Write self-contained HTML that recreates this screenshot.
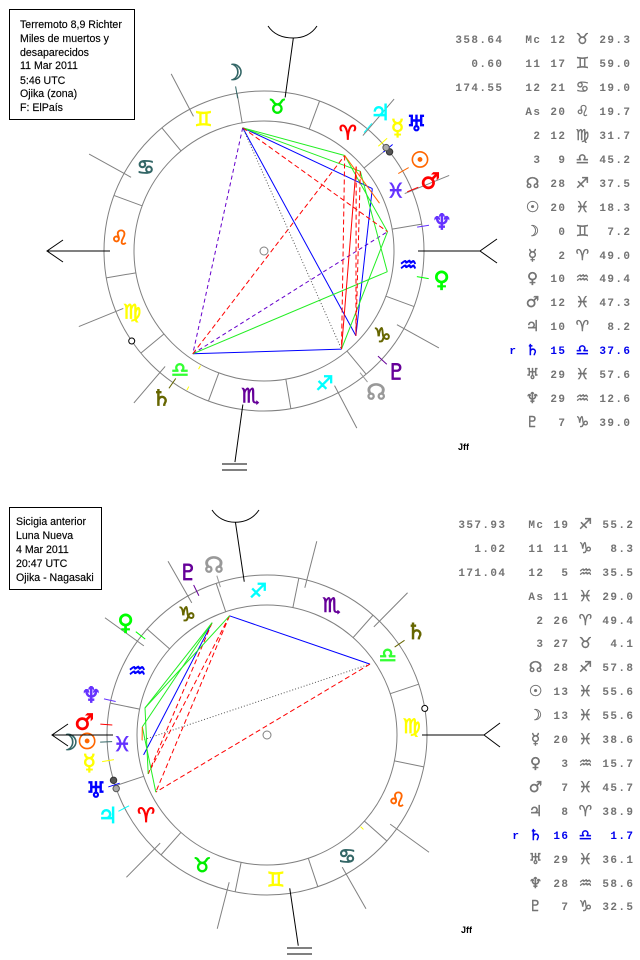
<!DOCTYPE html>
<html><head><meta charset="utf-8">
<style>
html,body{margin:0;padding:0;background:#fff;}
svg{display:block;}
.hd{font-family:"Liberation Sans",Arial,sans-serif;font-size:10.6px;fill:#000;stroke:#000;stroke-width:0.15;}
.t{font-family:"Liberation Mono",monospace;font-weight:bold;font-size:11px;letter-spacing:1.4px;fill:#737373;text-anchor:end;}
.tb{fill:#0000ee;}
.g{font-family:"DejaVu Sans",sans-serif;font-size:15px;text-anchor:middle;dominant-baseline:central;fill:#737373;stroke:#737373;stroke-width:0.4;}
.gb{fill:#0000ee;stroke:#0000ee;}
.z{font-family:"DejaVu Sans",sans-serif;font-size:20px;text-anchor:middle;dominant-baseline:central;stroke-width:0.8;}
.p{font-family:"DejaVu Sans",sans-serif;font-size:22px;text-anchor:middle;dominant-baseline:central;stroke-width:0.8;}
.rd{stroke:#ff0000;stroke-dasharray:5 3;}
.pd{stroke:#6600cc;stroke-dasharray:4 3;}
.gd{stroke:#555;stroke-dasharray:1 2;}
.bl{stroke:#0000ff;}
.gr{stroke:#22ee22;}
.rs{stroke:#ff0000;}
.or{stroke:#ff6600;}
</style></head>
<body>
<svg width="640" height="960" viewBox="0 0 640 960" xmlns="http://www.w3.org/2000/svg">
<rect width="640" height="960" fill="#fff"/>

<!-- Header boxes -->
<rect x="9.5" y="9.5" width="125" height="110" fill="none" stroke="#000"/>
<text class="hd" x="20" y="28">Terremoto 8,9 Richter</text>
<text class="hd" x="20" y="42">Miles de muertos y</text>
<text class="hd" x="20" y="56">desaparecidos</text>
<text class="hd" x="20" y="69">11 Mar 2011</text>
<text class="hd" x="20" y="84">5:46 UTC</text>
<text class="hd" x="20" y="97">Ojika (zona)</text>
<text class="hd" x="20" y="111">F: ElPaís</text>

<rect x="9.5" y="507.5" width="92" height="82" fill="none" stroke="#000"/>
<text class="hd" x="16" y="525">Sicigia anterior</text>
<text class="hd" x="16" y="539">Luna Nueva</text>
<text class="hd" x="16" y="553">4 Mar 2011</text>
<text class="hd" x="16" y="567">20:47 UTC</text>
<text class="hd" x="16" y="581">Ojika - Nagasaki</text>

<!-- ================= TOP CHART ================= -->
<g fill="none" stroke-width="1">
<line class="pd" x1="242.7" y1="127.8" x2="192.8" y2="353.8"/>
<line class="pd" x1="192.8" y1="353.8" x2="387.5" y2="231.7"/>
<line class="bl" x1="242.7" y1="127.8" x2="355.9" y2="335.7"/>
<line class="bl" x1="242.7" y1="127.8" x2="372.3" y2="188.6"/>
<line class="bl" x1="372.3" y1="188.6" x2="355.9" y2="335.7"/>
<line class="bl" x1="192.8" y1="353.8" x2="341.5" y2="349.1"/>
<line class="gr" x1="192.8" y1="353.8" x2="387.3" y2="271.7"/>
<line class="gr" x1="242.7" y1="127.8" x2="344.7" y2="155.5"/>
<line class="gr" x1="242.7" y1="127.8" x2="360.3" y2="171.3"/>
<line class="gr" x1="344.7" y1="155.5" x2="387.5" y2="231.7"/>
<line class="gr" x1="360.3" y1="171.3" x2="387.3" y2="271.7"/>
<line class="gr" x1="387.5" y1="231.7" x2="341.5" y2="349.1"/>
<line class="rd" x1="192.8" y1="353.8" x2="344.7" y2="155.5"/>
<line class="rd" x1="242.7" y1="127.8" x2="387.5" y2="231.7"/>
<line class="rd" x1="344.7" y1="155.5" x2="341.5" y2="349.1"/>
<line class="rd" x1="356.2" y1="166.6" x2="355.9" y2="335.7"/>
<line class="rd" x1="360.3" y1="171.3" x2="355.9" y2="335.7"/>
<line class="rs" x1="356.2" y1="166.6" x2="341.5" y2="349.1"/>
<line class="gd" x1="242.7" y1="127.8" x2="341.5" y2="349.1"/>
<line class="or" x1="344.7" y1="155.5" x2="379.5" y2="203.2"/>
</g>

<g transform="translate(264 251)">
 <g fill="none" stroke="#808080" stroke-width="1">
  <circle r="160"/><circle r="130"/>
  <line x1="130" x2="160" transform="rotate(-9.67)"/>
  <line x1="130" x2="160" transform="rotate(-39.67)"/>
  <line x1="130" x2="160" transform="rotate(-69.67)"/>
  <line x1="130" x2="160" transform="rotate(-99.67)"/>
  <line x1="130" x2="160" transform="rotate(-129.67)"/>
  <line x1="130" x2="160" transform="rotate(-159.67)"/>
  <line x1="130" x2="160" transform="rotate(-189.67)"/>
  <line x1="130" x2="160" transform="rotate(-219.67)"/>
  <line x1="130" x2="160" transform="rotate(-249.67)"/>
  <line x1="130" x2="160" transform="rotate(-279.67)"/>
  <line x1="130" x2="160" transform="rotate(-309.67)"/>
  <line x1="130" x2="160" transform="rotate(-339.67)"/>
  <line x1="152" x2="200" transform="rotate(-22.2)"/>
  <line x1="152" x2="200" transform="rotate(-49.42)"/>
  <line x1="152" x2="200" transform="rotate(-117.65)"/>
  <line x1="152" x2="200" transform="rotate(-150.99)"/>
  <line x1="152" x2="200" transform="rotate(-202.2)"/>
  <line x1="152" x2="200" transform="rotate(-229.42)"/>
  <line x1="152" x2="200" transform="rotate(-297.65)"/>
  <line x1="152" x2="200" transform="rotate(-330.99)"/>
 </g>
 <line x1="131" x2="135" transform="rotate(-241)" stroke="#ffff00"/>
 <line x1="155" x2="159" transform="rotate(-241)" stroke="#ffff00"/>
 <text class="z" fill="#ff0000" stroke="#ff0000" transform="rotate(-54.67) translate(145 0) rotate(54.67)">♈&#xFE0E;</text>
 <text class="z" fill="#00ee00" stroke="#00ee00" transform="rotate(-84.67) translate(145 0) rotate(84.67)">♉&#xFE0E;</text>
 <text class="z" fill="#ffff00" stroke="#ffff00" transform="rotate(-114.67) translate(145 0) rotate(114.67)">♊&#xFE0E;</text>
 <text class="z" fill="#336666" stroke="#336666" transform="rotate(-144.67) translate(145 0) rotate(144.67)">♋&#xFE0E;</text>
 <text class="z" fill="#ff6600" stroke="#ff6600" transform="rotate(-174.67) translate(145 0) rotate(174.67)">♌&#xFE0E;</text>
 <text class="z" fill="#ffff00" stroke="#ffff00" transform="rotate(-204.67) translate(145 0) rotate(204.67)">♍&#xFE0E;</text>
 <text class="z" fill="#33ff33" stroke="#33ff33" transform="rotate(-234.67) translate(145 0) rotate(234.67)">♎&#xFE0E;</text>
 <text class="z" fill="#660099" stroke="#660099" transform="rotate(-264.67) translate(145 0) rotate(264.67)">♏&#xFE0E;</text>
 <text class="z" fill="#00ffff" stroke="#00ffff" transform="rotate(-294.67) translate(145 0) rotate(294.67)">♐&#xFE0E;</text>
 <text class="z" fill="#666600" stroke="#666600" transform="rotate(-324.67) translate(145 0) rotate(324.67)">♑&#xFE0E;</text>
 <text class="z" fill="#0000ff" stroke="#0000ff" transform="rotate(-354.67) translate(145 0) rotate(354.67)">♒&#xFE0E;</text>
 <text class="z" fill="#6633ff" stroke="#6633ff" transform="rotate(-24.67) translate(145 0) rotate(24.67)">♓&#xFE0E;</text>
 <line x1="155" x2="167" transform="rotate(-308.3)" stroke="#999999"/>
 <line x1="155" x2="167" transform="rotate(-29.97)" stroke="#ff6600"/>
 <line x1="155" x2="167" transform="rotate(-99.79)" stroke="#336666"/>
 <line x1="155" x2="167" transform="rotate(-42.49)" stroke="#ffff00"/>
 <line x1="155" x2="167" transform="rotate(-350.49)" stroke="#00ff00"/>
 <line x1="155" x2="167" transform="rotate(-22.46)" stroke="#ff0000"/>
 <line x1="155" x2="167" transform="rotate(-49.8)" stroke="#00ffff"/>
 <line x1="155" x2="167" transform="rotate(-235.3)" stroke="#666600"/>
 <line x1="155" x2="167" transform="rotate(-39.63)" stroke="#0000ff"/>
 <line x1="155" x2="167" transform="rotate(-8.88)" stroke="#6633ff"/>
 <line x1="155" x2="167" transform="rotate(-317.32)" stroke="#660099"/>
 <text class="p" fill="#999999" stroke="#999999" transform="rotate(-308.3) translate(181 0) rotate(308.3)">☊</text>
 <text class="p" fill="#ff6600" stroke="#ff6600" transform="rotate(-29.97) translate(180 0) rotate(29.97)">☉</text>
 <text class="p" fill="#336666" stroke="#336666" transform="rotate(-99.79) translate(180 0) rotate(99.79)">☽</text>
 <text class="p" fill="#ffff00" stroke="#ffff00" transform="rotate(-42.49) translate(181 0) rotate(42.49)">☿</text>
 <text class="p" fill="#00ff00" stroke="#00ff00" transform="rotate(-350.49) translate(180 0) rotate(350.49)">♀&#xFE0E;</text>
 <text class="p" fill="#ff0000" stroke="#ff0000" transform="rotate(-22.46) translate(180 0) rotate(22.46)">♂&#xFE0E;</text>
 <text class="p" fill="#00ffff" stroke="#00ffff" transform="rotate(-49.8) translate(180 0) rotate(49.8)">♃</text>
 <text class="p" fill="#666600" stroke="#666600" transform="rotate(-235.3) translate(180 0) rotate(235.3)">♄</text>
 <text class="p" fill="#0000ff" stroke="#0000ff" transform="rotate(-39.63) translate(198 0) rotate(39.63)">♅</text>
 <text class="p" fill="#6633ff" stroke="#6633ff" transform="rotate(-8.88) translate(180 0) rotate(8.88)">♆</text>
 <text class="p" fill="#660099" stroke="#660099" transform="rotate(-317.32) translate(180 0) rotate(317.32)">♇</text>
 <g stroke="#000" fill="none" stroke-width="1">
  <line x1="-154" y1="0" x2="-217" y2="0"/>
  <polyline points="-201,-11 -217,0 -201,11"/>
  <line x1="154" y1="0" x2="216" y2="0"/>
  <polyline points="233,-12 216,0 233,12"/>
  <line x1="155" x2="215" transform="rotate(-82.16)"/>
  <path d="M4,-225 Q12,-213 29.3,-213 Q45,-213 53,-225"/>
  <line x1="155" x2="213" transform="rotate(-262.16)"/>
  <path d="M-42,213 H-17 M-42,219 H-17"/>
 </g>
 <circle cx="160" cy="0" r="3.2" transform="rotate(-38.31)" fill="#555" stroke="#333"/>
 <circle cx="160" cy="0" r="3.2" transform="rotate(-40.27)" fill="#aaa" stroke="#555"/>
 <circle cx="160" cy="0" r="3" transform="rotate(-214.22)" fill="#fff" stroke="#000"/>
 <circle r="4" fill="#fff" stroke="#808080"/>
</g>
<text x="458" y="450" font-family="Liberation Sans, sans-serif" font-size="9" font-weight="bold" fill="#000">Jff</text>

<!-- ================= BOTTOM CHART ================= -->
<g fill="none" stroke-width="1">
<line class="bl" x1="229.5" y1="615.8" x2="370.0" y2="664.1"/>
<line class="bl" x1="212.1" y1="622.7" x2="143.6" y2="754.9"/>
<line class="gd" x1="370.0" y1="664.1" x2="142.1" y2="740.3"/>
<line class="rd" x1="370.0" y1="664.1" x2="155.8" y2="792.1"/>
<line class="rd" x1="229.5" y1="615.8" x2="155.8" y2="792.1"/>
<line class="rd" x1="229.5" y1="615.8" x2="148.2" y2="773.9"/>
<line class="rd" x1="212.1" y1="622.7" x2="148.2" y2="773.9"/>
<line class="gr" x1="212.1" y1="622.7" x2="145.0" y2="707.9"/>
<line class="gr" x1="212.1" y1="622.7" x2="142.3" y2="726.9"/>
<line class="gr" x1="229.5" y1="615.8" x2="145.0" y2="707.9"/>
<line class="gr" x1="145.0" y1="707.9" x2="148.2" y2="773.9"/>
<line class="gr" x1="142.3" y1="726.9" x2="155.8" y2="792.1"/>
<line class="or" x1="142.3" y1="726.9" x2="142.1" y2="740.3"/>
</g>

<g transform="translate(267 735)">
 <g fill="none" stroke="#808080" stroke-width="1">
  <circle r="160"/><circle r="130"/>
  <line x1="130" x2="160" transform="rotate(-18.52)"/>
  <line x1="130" x2="160" transform="rotate(-48.52)"/>
  <line x1="130" x2="160" transform="rotate(-78.52)"/>
  <line x1="130" x2="160" transform="rotate(-108.52)"/>
  <line x1="130" x2="160" transform="rotate(-138.52)"/>
  <line x1="130" x2="160" transform="rotate(-168.52)"/>
  <line x1="130" x2="160" transform="rotate(-198.52)"/>
  <line x1="130" x2="160" transform="rotate(-228.52)"/>
  <line x1="130" x2="160" transform="rotate(-258.52)"/>
  <line x1="130" x2="160" transform="rotate(-288.52)"/>
  <line x1="130" x2="160" transform="rotate(-318.52)"/>
  <line x1="130" x2="160" transform="rotate(-348.52)"/>
  <line x1="152" x2="200" transform="rotate(-45.34)"/>
  <line x1="152" x2="200" transform="rotate(-75.59)"/>
  <line x1="152" x2="200" transform="rotate(-119.66)"/>
  <line x1="152" x2="200" transform="rotate(-144.11)"/>
  <line x1="152" x2="200" transform="rotate(-225.34)"/>
  <line x1="152" x2="200" transform="rotate(-255.59)"/>
  <line x1="152" x2="200" transform="rotate(-299.66)"/>
  <line x1="152" x2="200" transform="rotate(-324.11)"/>
 </g>
 <line x1="131" x2="135" transform="rotate(-315.6)" stroke="#ffff00"/>
 <text class="z" fill="#ff0000" stroke="#ff0000" transform="rotate(-213.52) translate(145 0) rotate(213.52)">♈&#xFE0E;</text>
 <text class="z" fill="#00ee00" stroke="#00ee00" transform="rotate(-243.52) translate(145 0) rotate(243.52)">♉&#xFE0E;</text>
 <text class="z" fill="#ffff00" stroke="#ffff00" transform="rotate(-273.52) translate(145 0) rotate(273.52)">♊&#xFE0E;</text>
 <text class="z" fill="#336666" stroke="#336666" transform="rotate(-303.52) translate(145 0) rotate(303.52)">♋&#xFE0E;</text>
 <text class="z" fill="#ff6600" stroke="#ff6600" transform="rotate(-333.52) translate(145 0) rotate(333.52)">♌&#xFE0E;</text>
 <text class="z" fill="#ffff00" stroke="#ffff00" transform="rotate(-3.52) translate(145 0) rotate(3.52)">♍&#xFE0E;</text>
 <text class="z" fill="#33ff33" stroke="#33ff33" transform="rotate(-33.52) translate(145 0) rotate(33.52)">♎&#xFE0E;</text>
 <text class="z" fill="#660099" stroke="#660099" transform="rotate(-63.52) translate(145 0) rotate(63.52)">♏&#xFE0E;</text>
 <text class="z" fill="#00ffff" stroke="#00ffff" transform="rotate(-93.52) translate(145 0) rotate(93.52)">♐&#xFE0E;</text>
 <text class="z" fill="#666600" stroke="#666600" transform="rotate(-123.52) translate(145 0) rotate(123.52)">♑&#xFE0E;</text>
 <text class="z" fill="#0000ff" stroke="#0000ff" transform="rotate(-153.52) translate(145 0) rotate(153.52)">♒&#xFE0E;</text>
 <text class="z" fill="#6633ff" stroke="#6633ff" transform="rotate(-183.52) translate(145 0) rotate(183.52)">♓&#xFE0E;</text>
 <line x1="155" x2="167" transform="rotate(-107.48)" stroke="#999999"/>
 <line x1="155" x2="167" transform="rotate(-182.45)" stroke="#336666"/>
 <line x1="155" x2="167" transform="rotate(-189.16)" stroke="#ffff00"/>
 <line x1="155" x2="167" transform="rotate(-141.78)" stroke="#00ff00"/>
 <line x1="155" x2="167" transform="rotate(-176.28)" stroke="#ff0000"/>
 <line x1="155" x2="167" transform="rotate(-207.17)" stroke="#00ffff"/>
 <line x1="155" x2="167" transform="rotate(-34.55)" stroke="#666600"/>
 <line x1="155" x2="167" transform="rotate(-198.12)" stroke="#0000ff"/>
 <line x1="155" x2="167" transform="rotate(-167.5)" stroke="#6633ff"/>
 <line x1="155" x2="167" transform="rotate(-116.06)" stroke="#660099"/>
 <text class="p" fill="#999999" stroke="#999999" transform="rotate(-107.48) translate(177 0) rotate(107.48)">☊</text>
 <text class="p" fill="#ff6600" stroke="#ff6600" transform="rotate(-182.45) translate(180 0) rotate(182.45)">☉</text>
 <text class="p" fill="#336666" stroke="#336666" transform="rotate(-182.45) translate(199 0) rotate(182.45)">☽</text>
 <text class="p" fill="#ffff00" stroke="#ffff00" transform="rotate(-189.16) translate(180 0) rotate(189.16)">☿</text>
 <text class="p" fill="#00ff00" stroke="#00ff00" transform="rotate(-141.78) translate(180 0) rotate(141.78)">♀&#xFE0E;</text>
 <text class="p" fill="#ff0000" stroke="#ff0000" transform="rotate(-176.28) translate(183 0) rotate(176.28)">♂&#xFE0E;</text>
 <text class="p" fill="#00ffff" stroke="#00ffff" transform="rotate(-207.17) translate(179 0) rotate(207.17)">♃</text>
 <text class="p" fill="#666600" stroke="#666600" transform="rotate(-34.55) translate(181 0) rotate(34.55)">♄</text>
 <text class="p" fill="#0000ff" stroke="#0000ff" transform="rotate(-198.12) translate(180 0) rotate(198.12)">♅</text>
 <text class="p" fill="#6633ff" stroke="#6633ff" transform="rotate(-167.5) translate(180 0) rotate(167.5)">♆</text>
 <text class="p" fill="#660099" stroke="#660099" transform="rotate(-116.06) translate(180 0) rotate(116.06)">♇</text>
 <g stroke="#000" fill="none" stroke-width="1">
  <line x1="-154" y1="0" x2="-215" y2="0"/>
  <polyline points="-199,-11 -215,0 -199,11"/>
  <line x1="155" y1="0" x2="217" y2="0"/>
  <polyline points="233,-12 217,0 233,12"/>
  <line x1="155" x2="215" transform="rotate(-98.44)"/>
  <path d="M-55,-225 Q-47,-213 -31.6,-212.7 Q-16,-213 -8,-225"/>
  <line x1="155" x2="213" transform="rotate(-278.44)"/>
  <path d="M20,213 H45 M20,219 H45"/>
 </g>
 <circle cx="160" cy="0" r="3.2" transform="rotate(-196.45)" fill="#555" stroke="#333"/>
 <circle cx="160" cy="0" r="3.2" transform="rotate(-199.54)" fill="#aaa" stroke="#555"/>
 <circle cx="160" cy="0" r="3" transform="rotate(-9.56)" fill="#fff" stroke="#000"/>
 <circle r="4" fill="#fff" stroke="#808080"/>
</g>
<text x="461" y="933" font-family="Liberation Sans, sans-serif" font-size="9" font-weight="bold" fill="#000">Jff</text>

<!-- ================= TOP TABLE ================= -->
<text class="t" x="503.4" y="43">358.64</text><text class="t" x="541.4" y="43">Mc</text><text class="t" x="566.4" y="43">12</text><text class="g" x="582.5" y="39">♉&#xFE0E;</text><text class="t" x="631.4" y="43">29.3</text>
<text class="t" x="503.4" y="67">0.60</text><text class="t" x="541.4" y="67">11</text><text class="t" x="566.4" y="67">17</text><text class="g" x="582.5" y="63">♊&#xFE0E;</text><text class="t" x="631.4" y="67">59.0</text>
<text class="t" x="503.4" y="91">174.55</text><text class="t" x="541.4" y="91">12</text><text class="t" x="566.4" y="91">21</text><text class="g" x="582.5" y="87">♋&#xFE0E;</text><text class="t" x="631.4" y="91">19.0</text>
<text class="t" x="541.4" y="115">As</text><text class="t" x="566.4" y="115">20</text><text class="g" x="582.5" y="111">♌&#xFE0E;</text><text class="t" x="631.4" y="115">19.7</text>
<text class="t" x="541.4" y="139">2</text><text class="t" x="566.4" y="139">12</text><text class="g" x="582.5" y="135">♍&#xFE0E;</text><text class="t" x="631.4" y="139">31.7</text>
<text class="t" x="541.4" y="163">3</text><text class="t" x="566.4" y="163">9</text><text class="g" x="582.5" y="159">♎&#xFE0E;</text><text class="t" x="631.4" y="163">45.2</text>
<text class="g" x="532.5" y="183">☊</text><text class="t" x="566.4" y="187">28</text><text class="g" x="582.5" y="183">♐&#xFE0E;</text><text class="t" x="631.4" y="187">37.5</text>
<text class="g" x="532.5" y="207">☉</text><text class="t" x="566.4" y="211">20</text><text class="g" x="582.5" y="207">♓&#xFE0E;</text><text class="t" x="631.4" y="211">18.3</text>
<text class="g" x="532.5" y="231">☽</text><text class="t" x="566.4" y="235">0</text><text class="g" x="582.5" y="231">♊&#xFE0E;</text><text class="t" x="631.4" y="235">7.2</text>
<text class="g" x="532.5" y="255">☿</text><text class="t" x="566.4" y="259">2</text><text class="g" x="582.5" y="255">♈&#xFE0E;</text><text class="t" x="631.4" y="259">49.0</text>
<text class="g" x="532.5" y="278">♀&#xFE0E;</text><text class="t" x="566.4" y="282">10</text><text class="g" x="582.5" y="278">♒&#xFE0E;</text><text class="t" x="631.4" y="282">49.4</text>
<text class="g" x="532.5" y="302">♂&#xFE0E;</text><text class="t" x="566.4" y="306">12</text><text class="g" x="582.5" y="302">♓&#xFE0E;</text><text class="t" x="631.4" y="306">47.3</text>
<text class="g" x="532.5" y="326">♃</text><text class="t" x="566.4" y="330">10</text><text class="g" x="582.5" y="326">♈&#xFE0E;</text><text class="t" x="631.4" y="330">8.2</text>
<text class="t tb" x="517.4" y="354">r</text><text class="g gb" x="532.5" y="350">♄</text><text class="t tb" x="566.4" y="354">15</text><text class="g gb" x="582.5" y="350">♎&#xFE0E;</text><text class="t tb" x="631.4" y="354">37.6</text>
<text class="g" x="532.5" y="374">♅</text><text class="t" x="566.4" y="378">29</text><text class="g" x="582.5" y="374">♓&#xFE0E;</text><text class="t" x="631.4" y="378">57.6</text>
<text class="g" x="532.5" y="398">♆</text><text class="t" x="566.4" y="402">29</text><text class="g" x="582.5" y="398">♒&#xFE0E;</text><text class="t" x="631.4" y="402">12.6</text>
<text class="g" x="532.5" y="422">♇</text><text class="t" x="566.4" y="426">7</text><text class="g" x="582.5" y="422">♑&#xFE0E;</text><text class="t" x="631.4" y="426">39.0</text>

<!-- ================= BOTTOM TABLE ================= -->
<text class="t" x="506.4" y="528">357.93</text><text class="t" x="544.4" y="528">Mc</text><text class="t" x="569.4" y="528">19</text><text class="g" x="585.5" y="524">♐&#xFE0E;</text><text class="t" x="634.4" y="528">55.2</text>
<text class="t" x="506.4" y="552">1.02</text><text class="t" x="544.4" y="552">11</text><text class="t" x="569.4" y="552">11</text><text class="g" x="585.5" y="548">♑&#xFE0E;</text><text class="t" x="634.4" y="552">8.3</text>
<text class="t" x="506.4" y="576">171.04</text><text class="t" x="544.4" y="576">12</text><text class="t" x="569.4" y="576">5</text><text class="g" x="585.5" y="572">♒&#xFE0E;</text><text class="t" x="634.4" y="576">35.5</text>
<text class="t" x="544.4" y="600">As</text><text class="t" x="569.4" y="600">11</text><text class="g" x="585.5" y="596">♓&#xFE0E;</text><text class="t" x="634.4" y="600">29.0</text>
<text class="t" x="544.4" y="624">2</text><text class="t" x="569.4" y="624">26</text><text class="g" x="585.5" y="620">♈&#xFE0E;</text><text class="t" x="634.4" y="624">49.4</text>
<text class="t" x="544.4" y="647">3</text><text class="t" x="569.4" y="647">27</text><text class="g" x="585.5" y="643">♉&#xFE0E;</text><text class="t" x="634.4" y="647">4.1</text>
<text class="g" x="535.5" y="667">☊</text><text class="t" x="569.4" y="671">28</text><text class="g" x="585.5" y="667">♐&#xFE0E;</text><text class="t" x="634.4" y="671">57.8</text>
<text class="g" x="535.5" y="691">☉</text><text class="t" x="569.4" y="695">13</text><text class="g" x="585.5" y="691">♓&#xFE0E;</text><text class="t" x="634.4" y="695">55.6</text>
<text class="g" x="535.5" y="715">☽</text><text class="t" x="569.4" y="719">13</text><text class="g" x="585.5" y="715">♓&#xFE0E;</text><text class="t" x="634.4" y="719">55.6</text>
<text class="g" x="535.5" y="739">☿</text><text class="t" x="569.4" y="743">20</text><text class="g" x="585.5" y="739">♓&#xFE0E;</text><text class="t" x="634.4" y="743">38.6</text>
<text class="g" x="535.5" y="763">♀&#xFE0E;</text><text class="t" x="569.4" y="767">3</text><text class="g" x="585.5" y="763">♒&#xFE0E;</text><text class="t" x="634.4" y="767">15.7</text>
<text class="g" x="535.5" y="787">♂&#xFE0E;</text><text class="t" x="569.4" y="791">7</text><text class="g" x="585.5" y="787">♓&#xFE0E;</text><text class="t" x="634.4" y="791">45.7</text>
<text class="g" x="535.5" y="811">♃</text><text class="t" x="569.4" y="815">8</text><text class="g" x="585.5" y="811">♈&#xFE0E;</text><text class="t" x="634.4" y="815">38.9</text>
<text class="t tb" x="520.4" y="839">r</text><text class="g gb" x="535.5" y="835">♄</text><text class="t tb" x="569.4" y="839">16</text><text class="g gb" x="585.5" y="835">♎&#xFE0E;</text><text class="t tb" x="634.4" y="839">1.7</text>
<text class="g" x="535.5" y="859">♅</text><text class="t" x="569.4" y="863">29</text><text class="g" x="585.5" y="859">♓&#xFE0E;</text><text class="t" x="634.4" y="863">36.1</text>
<text class="g" x="535.5" y="883">♆</text><text class="t" x="569.4" y="887">28</text><text class="g" x="585.5" y="883">♒&#xFE0E;</text><text class="t" x="634.4" y="887">58.6</text>
<text class="g" x="535.5" y="906">♇</text><text class="t" x="569.4" y="910">7</text><text class="g" x="585.5" y="906">♑&#xFE0E;</text><text class="t" x="634.4" y="910">32.5</text>
</svg>
</body></html>
